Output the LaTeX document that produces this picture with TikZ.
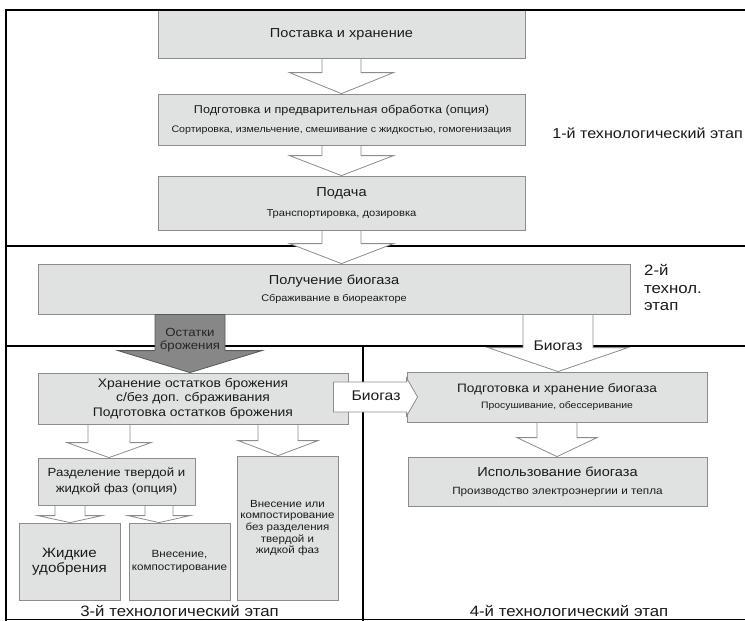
\documentclass[tikz,border=0pt]{standalone}
\usepackage{fontspec}
\setmainfont{Liberation Sans}[FakeStretch=1.12]
\usetikzlibrary{calc}
\definecolor{boxfill}{HTML}{E0E2E2}
\definecolor{boxline}{HTML}{8C8C8C}
\definecolor{darkarrow}{HTML}{878787}
\definecolor{txt}{HTML}{1A1A1A}
\newcommand\fs[1]{\fontsize{#1}{1.22\dimexpr#1pt\relax}\selectfont}
% vertical block arrow: style, from, to, x centre, shaft half width, head half width, head length
\newcommand\vbarrow[7]{%
  \path[#1] let \p1=(#2.south), \p2=(#3.north) in
    (#4pt-#5pt,\y1) -- (#4pt+#5pt,\y1) -- (#4pt+#5pt,\y2+#7pt) -- (#4pt+#6pt,\y2+#7pt)
    -- (#4pt,\y2) -- (#4pt-#6pt,\y2+#7pt) -- (#4pt-#5pt,\y2+#7pt) -- cycle;}
\begin{document}
\begin{tikzpicture}[x=1pt,y=-1pt,
  frame/.style={line width=2.6pt,black},
  box/.style={draw=boxline,fill=boxfill,line width=0.8pt,inner sep=0pt,align=center,text=txt,font=\fs{13}},
  warrow/.style={draw=boxline,fill=white,line width=0.8pt},
  darrow/.style={draw=gray!70!black,fill=darkarrow,line width=0.8pt},
  lbl/.style={inner sep=0pt,text=txt,align=center},
  stage/.style={lbl,font=\fs{15}}]
\useasboundingbox (0,0) rectangle (745,621);
\fill[white] (0,0) rectangle (745,621);
% separators
\draw[frame] (6,246) -- (760,246);
\draw[frame] (6,346) -- (760,346);
\draw[frame] (363,346) -- (363,621);
% stage 1
\node[box,minimum width=367pt,minimum height=48pt] (b1) at (341.5,34) {Поставка и хранение};
\node[box,font=\fs{11.3},minimum width=367pt,minimum height=51pt] (b2) at (341.5,119.5)
  {Подготовка и предварительная обработка (опция)\\[5pt]{\fs{9.5}Сортировка, измельчение, смешивание с жидкостью, гомогенизация}};
\node[box,minimum width=367pt,minimum height=54pt] (b3) at (341.5,203)
  {Подача\\[4pt]{\fs{10}Транспортировка, дозировка}};
% stage 2
\node[box,minimum width=592pt,minimum height=50pt] (b4) at (334,289)
  {Получение биогаза\\[1pt]{\fs{9.7}Сбраживание в биореакторе}};
% stage 3
\node[box,font=\fs{12.4},minimum width=310pt,minimum height=51pt] (b5) at (193,398.5)
  {Хранение остатков брожения\\[-0.5pt]с/без доп. сбраживания\\[-0.5pt]Подготовка остатков брожения};
\node[box,font=\fs{11.8},minimum width=157pt,minimum height=47pt] (b8) at (116.5,481.5)
  {Разделение твердой и\\[1pt]жидкой фаз (опция)};
\node[box,font=\fs{10.3},minimum width=101pt,minimum height=144pt] (b9) at (287.5,528)
  {Внесение или\\[-1pt]компостирование\\[-1pt]без разделения\\[-1pt]твердой и\\[-1pt]жидкой фаз};
\node[box,font=\fs{13.5},minimum width=101pt,minimum height=77pt] (b10) at (69.5,561.5)
  {Жидкие\\[-1.5pt]удобрения};
\node[box,font=\fs{10.4},minimum width=101pt,minimum height=77pt] (b11) at (179.5,561.5)
  {Внесение,\\[0pt]компостирование};
% stage 4
\node[box,font=\fs{12.2},minimum width=300pt,minimum height=50pt] (b6) at (557,397)
  {Подготовка и хранение биогаза\\[1pt]{\fs{9.3}Просушивание, обессеривание}};
\node[box,minimum width=299pt,minimum height=49pt] (b7) at (557.5,481.5)
  {Использование биогаза\\[2pt]{\fs{10.5}Производство электроэнергии и тепла}};
% block arrows
\vbarrow{warrow}{b1}{b2}{341.5}{19.5}{52}{21}
\vbarrow{warrow}{b2}{b3}{341.5}{19.5}{52}{20}
\vbarrow{warrow}{b3}{b4}{341.5}{19.5}{52}{20}
\vbarrow{darrow}{b4}{b5}{190}{35}{72}{22}
\vbarrow{warrow}{b4}{b6}{558}{35}{70}{24}
\vbarrow{warrow}{b6}{b7}{557}{20}{40}{19}
\vbarrow{warrow}{b5}{b8}{109}{21}{42}{15}
\vbarrow{warrow}{b5}{b9}{278}{20}{40}{15}
\vbarrow{warrow}{b8}{b10}{70}{15}{32}{7}
\vbarrow{warrow}{b8}{b11}{159}{14}{31}{7}
\path[warrow] let \p1=(b5.east), \p2=(b6.west) in
  (\x1-15pt,\y2+15pt) -- (\x2,\y2+15pt) -- (\x2,\y2+19pt) -- (\x2+11pt,\y2)
  -- (\x2,\y2-19pt) -- (\x2,\y2-15pt) -- (\x1-15pt,\y2-15pt) -- cycle;
% arrow labels
\node[lbl,font=\fs{11.8},text=black!85] (ost) at (190,340) {Остатки\\[-1.5pt]брожения};
\node[lbl,font=\fs{14}] (gas1) at (558,346) {Биогаз};
\node[lbl,font=\fs{14}] (gas2) at (376,396) {Биогаз};
% stage labels
\node[stage,font=\fs{14.4},anchor=east] (st1) at (743,133) {1-й технологический этап};
\node[stage,align=left,anchor=north west] (st2) at (644,264) {2-й\\[-0.5pt]технол.\\[-0.5pt]этап};
\node[stage] (st3) at (179.5,611) {3-й технологический этап};
\node[stage] (st4) at (569,611) {4-й технологический этап};
% outer frame
\draw[frame] (6,760) -- (6,10) -- (760,10);
\draw[line width=0.8pt] (6,619.5) -- (760,619.5);
\end{tikzpicture}
\end{document}
